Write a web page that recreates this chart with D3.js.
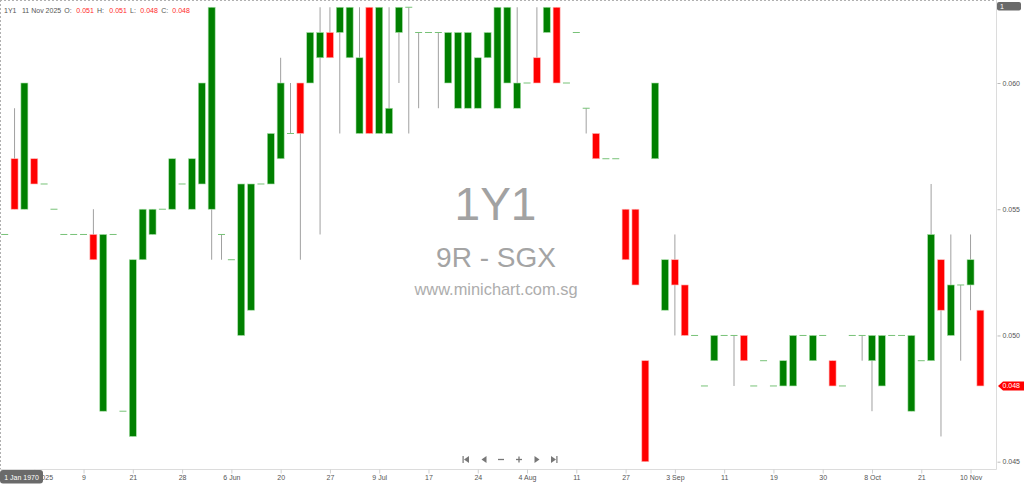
<!DOCTYPE html>
<html>
<head>
<meta charset="utf-8">
<script src="https://cdn.jsdelivr.net/npm/d3@7"></script>
<style>
  html, body { margin: 0; padding: 0; background: #fff; }
  svg { display: block; font-family: 'Liberation Sans', Arial, sans-serif; }
</style>
</head>
<body>
<svg id="chart" width="1024" height="484"></svg>
<script>
// daily OHLC, 100 sessions (prices in SGD)
const opens = [
  0.054, 0.057, 0.055, 0.057, 0.056, 0.055, 0.054, 0.054, 0.054, 0.054,
  0.047, 0.054, 0.047, 0.046, 0.053, 0.054, 0.055, 0.055, 0.056, 0.055,
  0.056, 0.055, 0.054, 0.053, 0.050, 0.051, 0.056, 0.056, 0.057, 0.058,
  0.060, 0.060, 0.061, 0.062, 0.062, 0.061, 0.058, 0.063, 0.058, 0.058,
  0.062, 0.063, 0.062, 0.062, 0.062, 0.060, 0.059, 0.059, 0.059, 0.061,
  0.059, 0.060, 0.059, 0.060, 0.061, 0.062, 0.063, 0.060, 0.062, 0.059,
  0.058, 0.057, 0.057, 0.055, 0.055, 0.049, 0.057, 0.051, 0.053, 0.052,
  0.050, 0.048, 0.049, 0.050, 0.050, 0.050, 0.048, 0.049, 0.048, 0.048,
  0.048, 0.050, 0.049, 0.050, 0.049, 0.048, 0.050, 0.050, 0.049, 0.048,
  0.050, 0.050, 0.047, 0.049, 0.049, 0.053, 0.050, 0.052, 0.052, 0.051
];
const highs = [
  0.054, 0.059, 0.060, 0.057, 0.056, 0.055, 0.054, 0.054, 0.054, 0.055,
  0.054, 0.054, 0.047, 0.053, 0.055, 0.055, 0.055, 0.057, 0.056, 0.057,
  0.060, 0.063, 0.054, 0.053, 0.056, 0.056, 0.056, 0.058, 0.061, 0.060,
  0.060, 0.062, 0.063, 0.063, 0.063, 0.063, 0.063, 0.063, 0.063, 0.063,
  0.063, 0.063, 0.062, 0.062, 0.062, 0.062, 0.062, 0.062, 0.061, 0.062,
  0.063, 0.063, 0.063, 0.060, 0.063, 0.063, 0.063, 0.060, 0.062, 0.059,
  0.058, 0.057, 0.057, 0.055, 0.055, 0.049, 0.060, 0.053, 0.054, 0.052,
  0.050, 0.048, 0.050, 0.050, 0.050, 0.050, 0.048, 0.049, 0.048, 0.049,
  0.050, 0.050, 0.050, 0.050, 0.049, 0.048, 0.050, 0.050, 0.050, 0.050,
  0.050, 0.050, 0.050, 0.049, 0.056, 0.053, 0.054, 0.052, 0.054, 0.051
];
const lows = [
  0.054, 0.055, 0.055, 0.056, 0.056, 0.055, 0.054, 0.054, 0.054, 0.053,
  0.047, 0.054, 0.047, 0.046, 0.053, 0.054, 0.055, 0.055, 0.056, 0.055,
  0.056, 0.053, 0.053, 0.053, 0.050, 0.051, 0.056, 0.056, 0.057, 0.058,
  0.053, 0.060, 0.054, 0.061, 0.058, 0.061, 0.058, 0.058, 0.058, 0.058,
  0.060, 0.058, 0.059, 0.062, 0.059, 0.060, 0.059, 0.059, 0.059, 0.061,
  0.059, 0.060, 0.059, 0.060, 0.060, 0.062, 0.060, 0.060, 0.062, 0.058,
  0.057, 0.057, 0.057, 0.053, 0.052, 0.045, 0.057, 0.051, 0.050, 0.050,
  0.050, 0.048, 0.049, 0.050, 0.048, 0.049, 0.048, 0.049, 0.048, 0.048,
  0.048, 0.050, 0.049, 0.050, 0.048, 0.048, 0.050, 0.049, 0.047, 0.048,
  0.050, 0.050, 0.047, 0.049, 0.049, 0.046, 0.050, 0.049, 0.051, 0.048
];
const closes = [
  0.054, 0.055, 0.060, 0.056, 0.056, 0.055, 0.054, 0.054, 0.054, 0.053,
  0.054, 0.054, 0.047, 0.053, 0.055, 0.055, 0.055, 0.057, 0.056, 0.057,
  0.060, 0.063, 0.054, 0.053, 0.056, 0.056, 0.056, 0.058, 0.060, 0.058,
  0.058, 0.062, 0.062, 0.061, 0.063, 0.063, 0.061, 0.058, 0.063, 0.059,
  0.063, 0.063, 0.062, 0.062, 0.062, 0.062, 0.062, 0.062, 0.061, 0.062,
  0.063, 0.063, 0.060, 0.060, 0.060, 0.063, 0.060, 0.060, 0.062, 0.059,
  0.057, 0.057, 0.057, 0.053, 0.052, 0.045, 0.060, 0.053, 0.052, 0.050,
  0.050, 0.048, 0.050, 0.050, 0.050, 0.049, 0.048, 0.049, 0.048, 0.049,
  0.050, 0.050, 0.050, 0.050, 0.048, 0.048, 0.050, 0.050, 0.050, 0.050,
  0.050, 0.050, 0.050, 0.049, 0.054, 0.051, 0.052, 0.052, 0.053, 0.048
];

// x axis: one label every 5 sessions
const tickIndex = [3, 8, 13, 18, 23, 28, 33, 38, 43, 48, 53, 58, 63, 68, 73, 78, 83, 88, 93, 98];
const tickLabels = ['2 May 2025', '9', '21', '28', '6 Jun', '20', '27', '9 Jul', '17', '24',
  '4 Aug', '11', '27', '3 Sep', '11', '19', '30', '8 Oct', '21', '10 Nov'];

const priceTicks = [0.045, 0.05, 0.055, 0.06];

const width = 1024,
  height = 484,
  plotRight = 996.5,
  plotBottom = 469.5,
  bodyWidth = 7,
  upColor = '#008000',
  downColor = '#ff0000';

const data = opens.map((o, i) => ({
  i: i,
  open: o,
  high: highs[i],
  low: lows[i],
  close: closes[i]
}));

const svg = d3.select('#chart');

const x = d3
  .scaleLinear()
  .domain([0, data.length - 1])
  .range([4.7, 980.4]);

const y = d3
  .scaleLinear()
  .domain([0.045, 0.06])
  .range([461.7, 83]);

/* frame */
svg
  .append('line')
  .attr('x1', 0)
  .attr('x2', plotRight)
  .attr('y1', 0.5)
  .attr('y2', 0.5)
  .style('stroke', '#b0b0b0')
  .style('stroke-dasharray', '2,2');

svg
  .append('line')
  .attr('x1', 0.5)
  .attr('x2', 0.5)
  .attr('y1', 0)
  .attr('y2', plotBottom)
  .style('stroke', '#b0b0b0')
  .style('stroke-dasharray', '2,2');

svg
  .append('line')
  .attr('x1', plotRight)
  .attr('x2', plotRight)
  .attr('y1', 0)
  .attr('y2', plotBottom)
  .style('stroke', '#dcdcdc');

svg
  .append('line')
  .attr('x1', 0)
  .attr('x2', plotRight)
  .attr('y1', plotBottom)
  .attr('y2', plotBottom)
  .style('stroke', '#dcdcdc');

/* watermark */
const mark = svg.append('g').attr('class', 'watermark').style('text-anchor', 'middle');
mark
  .append('text')
  .attr('x', 495.5)
  .attr('y', 220)
  .style('font-size', '46px')
  .style('fill', '#a2a2a2')
  .text('1Y1');
mark
  .append('text')
  .attr('x', 496)
  .attr('y', 267)
  .style('font-size', '28px')
  .style('fill', '#a4a4a4')
  .text('9R - SGX');
mark
  .append('text')
  .attr('x', 496)
  .attr('y', 295)
  .style('font-size', '16.4px')
  .style('fill', '#adadad')
  .text('www.minichart.com.sg');

/* x axis */
const xAxis = d3
  .axisBottom(x)
  .tickValues(tickIndex)
  .tickFormat((d, k) => tickLabels[k])
  .tickSize(4)
  .tickPadding(2);

const xAxisLayer = svg
  .append('g')
  .attr('class', 'x axis')
  .attr('transform', 'translate(0,' + plotBottom + ')')
  .call(xAxis);
xAxisLayer.select('.domain').remove();
xAxisLayer.selectAll('line').style('stroke', '#cfcfcf');
xAxisLayer
  .selectAll('text')
  .style('font-size', '7px')
  .style('font-family', "'Liberation Sans', Arial, sans-serif")
  .style('fill', '#555');

/* y axis on the right */
const yAxis = d3
  .axisRight(y)
  .tickValues(priceTicks)
  .tickFormat(d3.format('.3f'))
  .tickSize(3)
  .tickPadding(2);

const yAxisLayer = svg
  .append('g')
  .attr('class', 'y axis')
  .attr('transform', 'translate(' + (plotRight + 1) + ',0)')
  .call(yAxis);
yAxisLayer.select('.domain').remove();
yAxisLayer.selectAll('line').style('stroke', '#bbb');
yAxisLayer
  .selectAll('text')
  .style('font-size', '7px')
  .style('font-family', "'Liberation Sans', Arial, sans-serif")
  .style('fill', '#555');

/* candles */
const candles = svg
  .append('g')
  .attr('class', 'candles')
  .selectAll('g')
  .data(data)
  .enter()
  .append('g');

candles
  .filter(d => d.high > d.low)
  .append('line')
  .attr('x1', d => x(d.i))
  .attr('x2', d => x(d.i))
  .attr('y1', d => y(d.high))
  .attr('y2', d => y(d.low))
  .style('stroke', '#a0a0a0')
  .style('stroke-width', 1);

candles
  .filter(d => d.open !== d.close)
  .append('rect')
  .attr('x', d => x(d.i) - bodyWidth / 2)
  .attr('width', bodyWidth)
  .attr('y', d => y(Math.max(d.open, d.close)))
  .attr('height', d => y(Math.min(d.open, d.close)) - y(Math.max(d.open, d.close)))
  .style('fill', d => (d.close > d.open ? upColor : downColor))
  .style('stroke', d => (d.close > d.open ? '#a8e0a8' : '#ffb4b4'))
  .style('stroke-width', 0.6);

candles
  .filter(d => d.open === d.close)
  .append('line')
  .attr('x1', d => x(d.i) - bodyWidth / 2)
  .attr('x2', d => x(d.i) + bodyWidth / 2)
  .attr('y1', d => y(d.open))
  .attr('y2', d => y(d.open))
  .style('stroke', '#78c278')
  .style('stroke-width', 1);

/* header: last bar */
const last = data[data.length - 1];
const fmt = d3.format('.3f');
const header = svg
  .append('text')
  .attr('y', 12.5)
  .style('font-size', '7px');
const headerParts = [
  { x: 4, t: '1Y1', c: '#555' },
  { x: 22, t: '11 Nov 2025', c: '#555' },
  { x: 64.3, t: 'O:', c: '#555' },
  { x: 76.3, t: fmt(last.open), c: '#ff2a2a' },
  { x: 97, t: 'H:', c: '#555' },
  { x: 109.3, t: fmt(last.high), c: '#ff2a2a' },
  { x: 130, t: 'L:', c: '#555' },
  { x: 140.3, t: fmt(last.low), c: '#ff2a2a' },
  { x: 161.3, t: 'C:', c: '#555' },
  { x: 172.3, t: fmt(last.close), c: '#ff2a2a' }
];
header
  .selectAll('tspan')
  .data(headerParts)
  .enter()
  .append('tspan')
  .attr('x', d => d.x)
  .style('fill', d => d.c)
  .text(d => d.t);

/* last price tag on the axis */
const ty = y(last.close);
svg
  .append('path')
  .attr('d', 'M' + (plotRight + 1.5) + ',' + ty +
    ' l5,-4.5 H' + width + ' v9 H' + (plotRight + 6.5) + ' Z')
  .style('fill', downColor);
svg
  .append('text')
  .attr('x', plotRight + 6)
  .attr('y', ty + 2.5)
  .style('font-size', '7px')
  .style('fill', '#fff')
  .text(fmt(last.close));

/* top-right badge */
svg
  .append('rect')
  .attr('x', 997)
  .attr('y', 2)
  .attr('width', 24)
  .attr('height', 8.5)
  .attr('rx', 2)
  .style('fill', '#6a6a6a');
svg
  .append('text')
  .attr('x', 1000)
  .attr('y', 9)
  .style('font-size', '7px')
  .style('fill', '#fff')
  .text('1');

/* crosshair date badge (sits over the first axis label, as in the source) */
svg
  .append('rect')
  .attr('x', 0)
  .attr('y', 470)
  .attr('width', 43)
  .attr('height', 13.5)
  .attr('rx', 3)
  .style('fill', '#6a6a6a');
svg
  .append('text')
  .attr('x', 21.5)
  .attr('y', 479.5)
  .style('font-size', '7px')
  .style('fill', '#fff')
  .style('text-anchor', 'middle')
  .text('1 Jan 1970');

/* navigation buttons */
const nav = svg.append('g').attr('class', 'nav').style('fill', '#777').style('stroke', '#777');
const ny = 459.5;
// first
nav.append('rect').attr('x', 462.5).attr('y', ny - 3.5).attr('width', 1.2).attr('height', 7).style('stroke', 'none');
nav.append('path').attr('d', 'M464,' + ny + ' l5,-3.5 v7 Z').style('stroke', 'none');
// prev
nav.append('path').attr('d', 'M481.5,' + ny + ' l5,-3.5 v7 Z').style('stroke', 'none');
// zoom out
nav.append('line').attr('x1', 498).attr('x2', 504).attr('y1', ny).attr('y2', ny).style('stroke-width', 1.3);
// zoom in
nav.append('line').attr('x1', 516).attr('x2', 522).attr('y1', ny).attr('y2', ny).style('stroke-width', 1.3);
nav.append('line').attr('x1', 519).attr('x2', 519).attr('y1', ny - 3).attr('y2', ny + 3).style('stroke-width', 1.3);
// next
nav.append('path').attr('d', 'M539.5,' + ny + ' l-5,-3.5 v7 Z').style('stroke', 'none');
// last
nav.append('path').attr('d', 'M556,' + ny + ' l-5,-3.5 v7 Z').style('stroke', 'none');
nav.append('rect').attr('x', 556.3).attr('y', ny - 3.5).attr('width', 1.2).attr('height', 7).style('stroke', 'none');
</script>
</body>
</html>
